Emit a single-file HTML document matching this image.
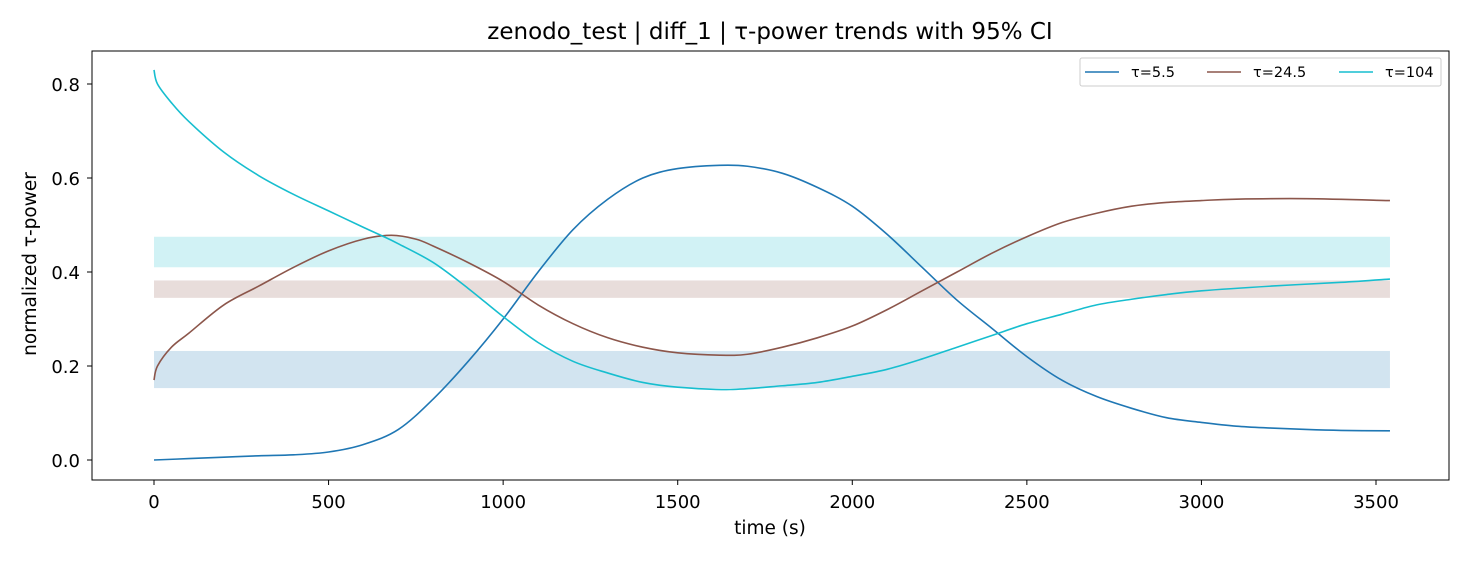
<!DOCTYPE html>
<html><head><meta charset="utf-8"><style>
body{margin:0;background:#fff;font-family:"Liberation Sans","DejaVu Sans",sans-serif}
svg text{font-family:"DejaVu Sans","Liberation Sans",sans-serif}
</style></head><body>
<svg id="c" width="1470" height="560" xmlns="http://www.w3.org/2000/svg"></svg>
<script>
const xsBlue=[0,100,200,300,400,500,600,700,800,900,1000,1100,1200,1300,1400,1500,1620,1700,1800,1900,2000,2100,2200,2300,2400,2500,2600,2700,2800,2900,3000,3100,3200,3300,3400,3540];
const blueVals=[0,0.003,0.006,0.009,0.011,0.017,0.033,0.065,0.13,0.21,0.30,0.40,0.49,0.555,0.60,0.62,0.627,0.625,0.61,0.58,0.54,0.48,0.41,0.34,0.28,0.22,0.17,0.135,0.11,0.09,0.08,0.072,0.068,0.065,0.063,0.062];
const xsBrown=[0,10,50,100,200,300,400,500,600,680,750,800,900,1000,1100,1200,1300,1400,1500,1620,1700,1800,1900,2000,2100,2200,2300,2400,2500,2600,2700,2800,2900,3000,3100,3300,3540];
const brownVals=[0.17,0.2,0.24,0.27,0.33,0.37,0.41,0.445,0.47,0.478,0.47,0.455,0.42,0.38,0.33,0.29,0.26,0.24,0.228,0.223,0.225,0.24,0.26,0.285,0.32,0.36,0.40,0.44,0.475,0.505,0.525,0.54,0.548,0.552,0.555,0.556,0.552];
const xsCyan=[0,10,50,100,200,300,400,500,600,650,700,800,900,1000,1100,1200,1300,1400,1500,1650,1800,1900,2000,2100,2200,2300,2400,2500,2600,2700,2800,2900,3000,3200,3400,3540];
const cyanVals=[0.83,0.80,0.76,0.72,0.655,0.605,0.565,0.53,0.495,0.478,0.46,0.42,0.365,0.305,0.25,0.21,0.185,0.165,0.155,0.15,0.158,0.165,0.178,0.193,0.215,0.24,0.265,0.29,0.31,0.33,0.342,0.352,0.36,0.37,0.378,0.385];
const bandLo=[0.153,0.345,0.41];
const bandHi=[0.232,0.382,0.475];
const seriesNames=["τ=5.5","τ=24.5","τ=104"];
const colors=["#1f77b4","#8c564b","#17becf"];
const xTicks=[0,500,1000,1500,2000,2500,3000,3500];
const yTicks=[0,0.2,0.4,0.6,0.8];
const xEnd=3540;
const X=v=>154+v*(1222/3500), Y=v=>460-v*470;
const NS="http://www.w3.org/2000/svg", svg=document.getElementById('c');
function mk(t,a,p){const e=document.createElementNS(NS,t);for(const k in a)e.setAttribute(k,a[k]);(p||svg).appendChild(e);return e;}
for(let i=0;i<3;i++){const r=mk('rect',{x:X(0),y:Y(bandHi[i]),width:X(xEnd)-X(0),height:Y(bandLo[i])-Y(bandHi[i]),fill:colors[i],'fill-opacity':0.2});

}
const sets=[[xsBlue,blueVals],[xsBrown,brownVals],[xsCyan,cyanVals]];
function smooth(pts){let d=`M${pts[0][0]},${pts[0][1]}`;for(let i=0;i<pts.length-1;i++){const p0=pts[Math.max(0,i-1)],p1=pts[i],p2=pts[i+1],p3=pts[Math.min(pts.length-1,i+2)];
d+=` C${p1[0]+(p2[0]-p0[0])/6},${p1[1]+(p2[1]-p0[1])/6} ${p2[0]-(p3[0]-p1[0])/6},${p2[1]-(p3[1]-p1[1])/6} ${p2[0]},${p2[1]}`;}return d;}
for(let i=0;i<3;i++){const pts=sets[i][0].map((x,j)=>[X(x),Y(sets[i][1][j])]);
const p=mk('path',{d:smooth(pts),fill:'none',stroke:colors[i],'stroke-width':1.6});

}
const fr=mk('rect',{x:92,y:51,width:1357,height:429,fill:'none',stroke:'#000','stroke-width':1});


for(const t of xTicks){mk('line',{x1:X(t),x2:X(t),y1:480,y2:485,stroke:'#000'});
const tx=mk('text',{x:X(t),y:508,'font-size':18,'text-anchor':'middle'});tx.textContent=t;

}
for(const t of yTicks){mk('line',{x1:87,x2:92,y1:Y(t),y2:Y(t),stroke:'#000'});
const tx=mk('text',{x:80,y:Y(t)+7,'font-size':18,'text-anchor':'end'});tx.textContent=t.toFixed(1);

}
const lg=mk('g',{});


mk('rect',{x:1080,y:58,width:361,height:28,rx:2,fill:'#fff',stroke:'#ccc'},lg);
const lx=[1085,1207,1339];
for(let i=0;i<3;i++){mk('line',{x1:lx[i],x2:lx[i]+34,y1:72,y2:72,stroke:colors[i],'stroke-width':1.6},lg);
const t=mk('text',{x:lx[i]+46,y:77,'font-size':14.5},lg);t.textContent=seriesNames[i];

}
const tt=mk('text',{x:770,y:39,'font-size':23,'text-anchor':'middle'});tt.textContent="zenodo_test | diff_1 | τ-power trends with 95% CI";


const xt=mk('text',{x:770,y:534,'font-size':18.5,'text-anchor':'middle'});xt.textContent="time (s)";


const yt=mk('text',{x:0,y:0,'font-size':18.5,'text-anchor':'middle',transform:'translate(36,264) rotate(-90)'});yt.textContent="normalized τ-power";


</script>
</body></html>
